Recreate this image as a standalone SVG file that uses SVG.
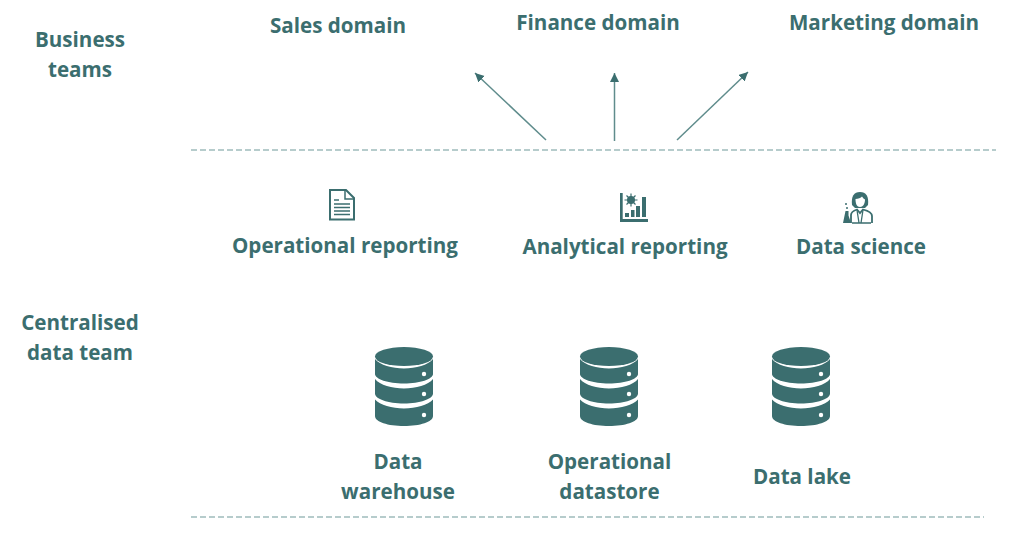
<svg xmlns="http://www.w3.org/2000/svg" width="1024" height="534" viewBox="0 0 1024 534">
<style>
text{font-family:"Open Sans","Liberation Sans",sans-serif;font-weight:700;font-size:20.600px;fill:#3b6e6f;text-anchor:middle}
.rule{stroke:#6f9a9a;stroke-width:1.200;stroke-dasharray:6 3;fill:none}
.arrow{stroke:#5f8c8c;stroke-width:1.500;fill:none;marker-end:url(#head)}
.ink{fill:#3b6e6f}
.hole{fill:#fff}
.lineart{fill:none;stroke:#3b6e6f}
</style>
<defs>
<marker id="head" markerUnits="userSpaceOnUse" markerWidth="10" markerHeight="10" refX="9" refY="4.5" orient="auto">
<path d="M0 0L9 4.5L0 9Z" fill="#3b6e6f"/>
</marker>
<!-- three-tier storage cylinder, centred on its origin -->
<g id="db">
<ellipse class="ink" cx="0" cy="-30.500" rx="29" ry="9.500"/>
<path class="ink" d="M-29-28C-24-22-12-18.500 0-18.500S24-22 29-28V-13C29-8 16-3.500 0-3.500S-29-8-29-13Z"/>
<path class="ink" d="M-29-8C-24-2-12 1.500 0 1.500S24-2 29-8V6.500C29 12 16 16.500 0 16.500S-29 12-29 6.500Z"/>
<path class="ink" d="M-29 12.500C-24 18-12 21.500 0 21.500S24 18 29 12.500V29C29 35 16 39 0 39S-29 35-29 29Z"/>
<circle class="hole" cx="20" cy="-13" r="2.200"/>
<circle class="hole" cx="20" cy="7" r="2.200"/>
<circle class="hole" cx="20" cy="28" r="2.200"/>
</g>
</defs>

<g id="connectors">
<line class="rule" x1="191" y1="150" x2="996" y2="150"/>
<line class="rule" x1="191" y1="517" x2="984" y2="517"/>
<line class="arrow" x1="546" y1="140" x2="475" y2="73"/>
<line class="arrow" x1="614.500" y1="141" x2="614.500" y2="73"/>
<line class="arrow" x1="677" y1="140" x2="748" y2="72"/>
</g>

<g id="business-teams"><text x="80" y="47">Business</text><text x="80" y="77">teams</text></g>
<g id="sales-domain"><text x="338" y="33">Sales domain</text></g>
<g id="finance-domain"><text x="598" y="30">Finance domain</text></g>
<g id="marketing-domain"><text x="884" y="30">Marketing domain</text></g>

<g id="operational-reporting">
<path class="lineart" stroke-width="2" d="M330 190H346L354 198V219.500H330Z"/>
<path class="lineart" stroke-width="1.500" d="M345 190V199H354"/>
<path class="lineart" stroke-width="1.300" d="M334 200H339M334 204H350M334 207.500H350M334 211H350M334 214.500H350"/>
<text x="345" y="253">Operational reporting</text>
</g>

<g id="analytical-reporting">
<path class="ink" d="M620 193H622.700V219H648V222H620Z"/>
<rect class="ink" x="625" y="213" width="4" height="4"/>
<rect class="ink" x="631" y="210" width="3.500" height="7"/>
<rect class="ink" x="636" y="206" width="4" height="11"/>
<rect class="ink" x="642" y="197" width="4" height="20"/>
<circle class="ink" cx="631" cy="200" r="4"/>
<path class="lineart" stroke-width="1.200" d="M631 193.500V206.500M624.500 200H637.500M626.500 195.500L635.500 204.500M635.500 195.500L626.500 204.500"/>
<text x="625" y="254">Analytical reporting</text>
</g>

<g id="data-science">
<path class="ink" d="M852 205C851 196 854 192 860 192C866 192 869 196 868 205L865 208H855Z"/>
<path class="hole" d="M855.500 199C858 199 861 198 862 196.500C863 198 864 199 865 199.500C865 204 863 207 860 207C857 207 855.500 204 855.500 199Z"/>
<path class="lineart" stroke-width="1.800" d="M851 223V215C851 212 854 210.500 857 209.500L860 213L863 209.500C867 210.500 872 212 872 216V223"/>
<path class="lineart" stroke-width="1.300" d="M852 223H871M857 210L859 223M863 210L861 223"/>
<path class="ink" d="M845.500 211H848.500V215.500L851 223H843Z"/>
<circle class="ink" cx="847" cy="208" r="1"/>
<circle class="ink" cx="846" cy="204" r="1"/>
<text x="861" y="254">Data science</text>
</g>

<g id="centralised-data-team"><text x="80" y="330">Centralised</text><text x="80" y="360">data team</text></g>

<g id="data-warehouse"><use href="#db" x="404" y="387"/><text x="398" y="469">Data</text><text x="398" y="499">warehouse</text></g>
<g id="operational-datastore"><use href="#db" x="609" y="387"/><text x="609.500" y="469">Operational</text><text x="609.500" y="499">datastore</text></g>
<g id="data-lake"><use href="#db" x="801" y="387"/><text x="802" y="484">Data lake</text></g>
</svg>
